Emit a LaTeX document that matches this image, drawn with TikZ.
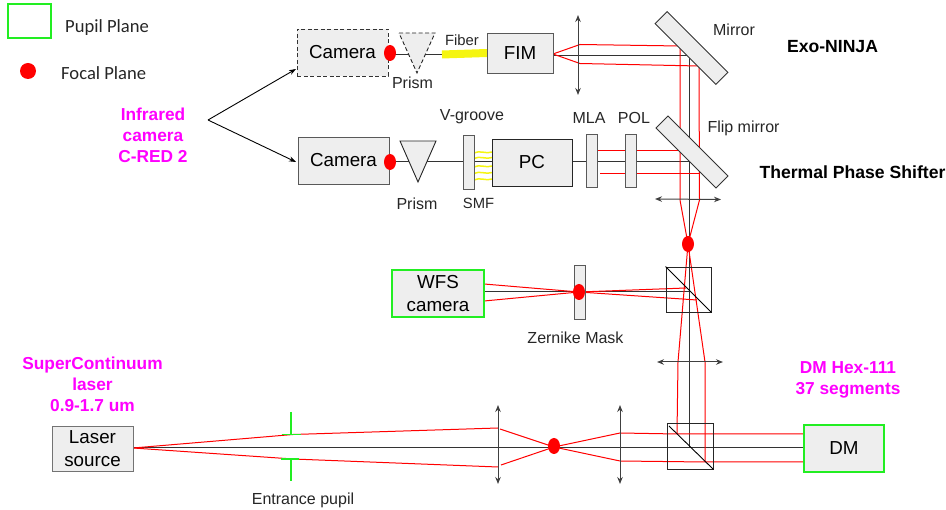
\documentclass[tikz,border=0pt]{standalone}
\usepackage{fontspec}
\setmainfont{Liberation Sans}
\newfontfamily\legendfont{Carlito}
\usetikzlibrary{arrows.meta,shapes.geometric}
\definecolor{boxfill}{HTML}{EEEEEE}
\definecolor{mag}{HTML}{FF00FF}
\definecolor{grn}{HTML}{22EE22}
\definecolor{yel}{HTML}{F5F510}
\tikzset{
  boxn/.style={draw=black!65,fill=boxfill,line width=0.9pt,inner sep=0pt,align=center,font=\fontsize{18.8}{23}\selectfont},
  gbox/.style={boxn,draw=grn,line width=1.8pt},
  plate/.style={draw=black!65,fill=boxfill,line width=0.9pt,inner sep=0pt},
  dot/.style={ellipse,fill=red,inner sep=0pt,minimum width=12pt,minimum height=16pt},
  lbl/.style={inner sep=0pt,font=\fontsize{16}{19}\selectfont,text=black!85},
  slbl/.style={inner sep=0pt,font=\fontsize{14.8}{18}\selectfont,text=black!85},
  leg/.style={inner sep=0pt,font=\legendfont\fontsize{18.6}{20}\selectfont,text=black!85},
  maglbl/.style={inner sep=0pt,align=center,text=mag,font=\fontsize{17.3}{21}\selectfont\bfseries},
  blbl/.style={inner sep=0pt,text=black,font=\fontsize{17.6}{20}\selectfont\bfseries},
  ray/.style={red,line width=1pt},
  axis/.style={black!80,line width=1pt},
  lens/.style={black!75,line width=1pt,{Stealth[length=7pt,width=5.5pt]}-{Stealth[length=7pt,width=5.5pt]}},
  fib/.style={yel,line width=1.5pt},
  pupil/.style={grn,line width=1.5pt},
  arr/.style={black,line width=0.9pt,-{Stealth[length=7pt,width=5pt]}},
  dsh/.style={dash pattern=on 4pt off 2.5pt}}
\begin{document}
\begin{tikzpicture}[x=1pt,y=-1pt]
\useasboundingbox (0,0) rectangle (946,510);
% named optical points
\coordinate (src) at (133,448);
\coordinate (pupU) at (293,434.5);
\coordinate (pupL) at (293,459);
\coordinate (l1U) at (498,428);
\coordinate (l1L) at (498,467);
\coordinate (l1Ua) at (500,429);
\coordinate (l1La) at (501,465);
\coordinate (f1) at (554,447);
\coordinate (l2U) at (620,433);
\coordinate (l2L) at (620,461);
\coordinate (bsU) at (677,434);
\coordinate (bsL) at (705,462);
\coordinate (lhU) at (678,362);
\coordinate (lhL) at (705,362);
\coordinate (f2) at (688,244);
\coordinate (refU) at (686,288);
\coordinate (refL) at (697,300);
\coordinate (fm) at (579,292);
\coordinate (topL) at (680,200);
\coordinate (topR) at (699.5,200);
\coordinate (mU) at (680,46);
\coordinate (mL) at (699,66);
\coordinate (mC) at (689,55.5);
\coordinate (fimU) at (580,44.5);
\coordinate (fimL) at (580,63.5);
\coordinate (sep) at (689,448);
% beams under the elements
\draw[axis] (133,448) -- (804,448);
\draw[axis] (mC) -- (sep);
\draw[axis] (484,292) -- (689,292);
\draw[axis] (553,55.5) -- (mC);
\draw[axis] (597,161.5) -- (689,161.5);
\draw[axis] (474,162) -- (492,162);
\draw[axis] (572,162) -- (586,162);
\draw[axis] (390,161.5) -- (463,161.5);
\draw[axis] (390,54.5) -- (442,54.5);
% red rays
\draw[ray] (src) -- (pupU) -- (l1U);
\draw[ray] (src) -- (pupL) -- (l1L);
\draw[ray] (l1Ua) -- (f1) -- (l2U) -- (bsU) -- (804,434);
\draw[ray] (l1La) -- (f1) -- (l2L) -- (bsL) -- (804,462);
\draw[ray] (bsU) -- (lhU) -- (f2) -- (topL) -- (mU) -- (fimU) -- (553,54);
\draw[ray] (bsL) -- (lhL) -- (f2) -- (topR) -- (mL) -- (fimL) -- (553,54);
\draw[ray] (484,284) -- (fm) -- (refU);
\draw[ray] (484,301) -- (fm) -- (refL);
\draw[ray] (597,150.4) -- (680,150.4);
\draw[ray] (600,173.5) -- (699,173.5);
% fibers
\draw[yel,line width=8pt] (442,54.5) -- (487,53);
\foreach \yy in {152,157.5,166,172.5,179}
  \draw[fib] (474,\yy+1) .. controls (480,\yy-2) and (484,\yy+2) .. (492,\yy);
% mirrors
\node[draw=black!80,fill=boxfill,line width=0.9pt,minimum width=86pt,minimum height=17pt,inner sep=0pt,rotate=-45] (mirror) at (691.5,48) {};
\node[draw=black!80,fill=boxfill,line width=0.9pt,minimum width=85pt,minimum height=17pt,inner sep=0pt,rotate=-45] (flip) at (692,152) {};
% beam splitters
\node[draw=black!85,line width=0.9pt,minimum size=45pt,inner sep=0pt] (bs1) at (688.5,289.5) {};
\draw[black,line width=0.9pt] (bs1.north west) -- (bs1.south east);
\node[draw=black!85,line width=0.9pt,minimum size=46pt,inner sep=0pt] (bs2) at (690,446) {};
\coordinate (bs2a) at (669,426);
\draw[black,line width=0.9pt] (bs2a) -- (bs2.south east);
% lenses
\coordinate (la1) at (578,15); \coordinate (la2) at (578,95);
\draw[lens] (la1) -- (la2);
\coordinate (lb1) at (655,199); \coordinate (lb2) at (721,199.5);
\draw[lens] (lb1) -- (lb2);
\coordinate (lc1) at (657,362); \coordinate (lc2) at (723,362);
\draw[lens] (lc1) -- (lc2);
\coordinate (ld1) at (498,405); \coordinate (ld2) at (498,484);
\draw[lens] (ld1) -- (ld2);
\coordinate (le1) at (620,405); \coordinate (le2) at (620,484);
\draw[lens] (le1) -- (le2);
% boxes
\node[boxn,dsh,draw=black!80,minimum width=91pt,minimum height=47pt] (cam1) at (342.5,52.5) {Camera};
\node[boxn,minimum width=66pt,minimum height=40pt] (fim) at (520,53) {FIM};
\node[boxn,minimum width=91pt,minimum height=47pt] (cam2) at (343.5,160.5) {Camera};
\node[boxn,draw=black!85,minimum width=80pt,minimum height=47pt] (pc) at (532,162.5) {PC};
\node[gbox,minimum width=92pt,minimum height=47pt] (wfs) at (438,293.5) {WFS\\camera};
\node[gbox,minimum width=80pt,minimum height=47pt] (dm) at (844,448.5) {DM};
\node[boxn,draw=black!55,minimum width=81pt,minimum height=45pt] (laser) at (92.5,448.5) {\raisebox{-2pt}{Laser}\\[0.5pt]\raisebox{-2pt}{source}};
% plates
\node[plate,minimum width=11pt,minimum height=54pt] (vg) at (468.5,162) {};
\node[plate,minimum width=11pt,minimum height=53pt] (mla) at (591.5,160.5) {};
\node[plate,minimum width=11pt,minimum height=53pt] (pol) at (630.5,160.5) {};
\node[plate,minimum width=11pt,minimum height=54pt] (zm) at (579.5,292) {};
% prisms
\draw[black!85,dsh,fill=boxfill,line width=0.9pt] (399,33) -- (435,33) -- (417,73) -- cycle;
\draw[black!85,fill=boxfill,line width=0.9pt] (400,141) -- (436,141) -- (418,182) -- cycle;
% focal dots
\node[dot] (d1) at (390,53) {};
\node[dot] (d2) at (390,162) {};
\node[dot] (d3) at (688,244) {};
\node[dot] (d4) at (579,292) {};
\node[dot] (d5) at (554,446) {};
% entrance pupil
\draw[pupil] (291,412) -- (291,434) (282,434.5) -- (301,434.5);
\draw[pupil] (291,459) -- (291,481) (281,459) -- (299,459);
% legend
\node[draw=grn,line width=1.1pt,minimum width=43pt,minimum height=34pt,inner sep=0pt] (pp) at (29.5,21) {};
\node[ellipse,fill=red,inner sep=0pt,minimum size=16pt] (fp) at (28,71) {};
\node[leg,anchor=west] (tpp) at (65,28) {Pupil Plane};
\node[leg,anchor=west] (tfp) at (61,73) {Focal Plane};
% source arrows
\coordinate (ir) at (208,120);
\coordinate (irA) at (296,69);
\coordinate (irB) at (296,162);
\draw[arr] (ir) -- (irA);
\draw[arr] (ir) -- (irB);
% labels
\node[maglbl] (tir) at (153,135) {Infrared\\camera\\C-RED 2};
\node[maglbl] (tsc) at (92.5,384.5) {SuperContinuum\\laser\\0.9-1.7 um};
\node[maglbl] (tdm) at (848,380) {DM Hex-111\\37 segments};
\node[blbl] (tex) at (832.5,47) {Exo-NINJA};
\node[blbl] (tts) at (852.5,172.5) {Thermal Phase Shifter};
\node[lbl] (t1) at (734,30) {Mirror};
\node[lbl] (t2) at (743.5,128) {Flip mirror};
\node[slbl] (t3) at (462,40) {Fiber};
\node[lbl] (t4) at (412.5,83) {Prism};
\node[lbl] (t5) at (472,116.5) {V-groove};
\node[lbl] (t6) at (589,118) {MLA};
\node[lbl] (t7) at (634,118) {POL};
\node[lbl] (t8) at (417,204) {Prism};
\node[slbl] (t9) at (478.5,203.5) {SMF};
\node[lbl] (t10) at (575.5,338) {Zernike Mask};
\node[lbl] (t11) at (303,500) {Entrance pupil};
\end{tikzpicture}
\end{document}
